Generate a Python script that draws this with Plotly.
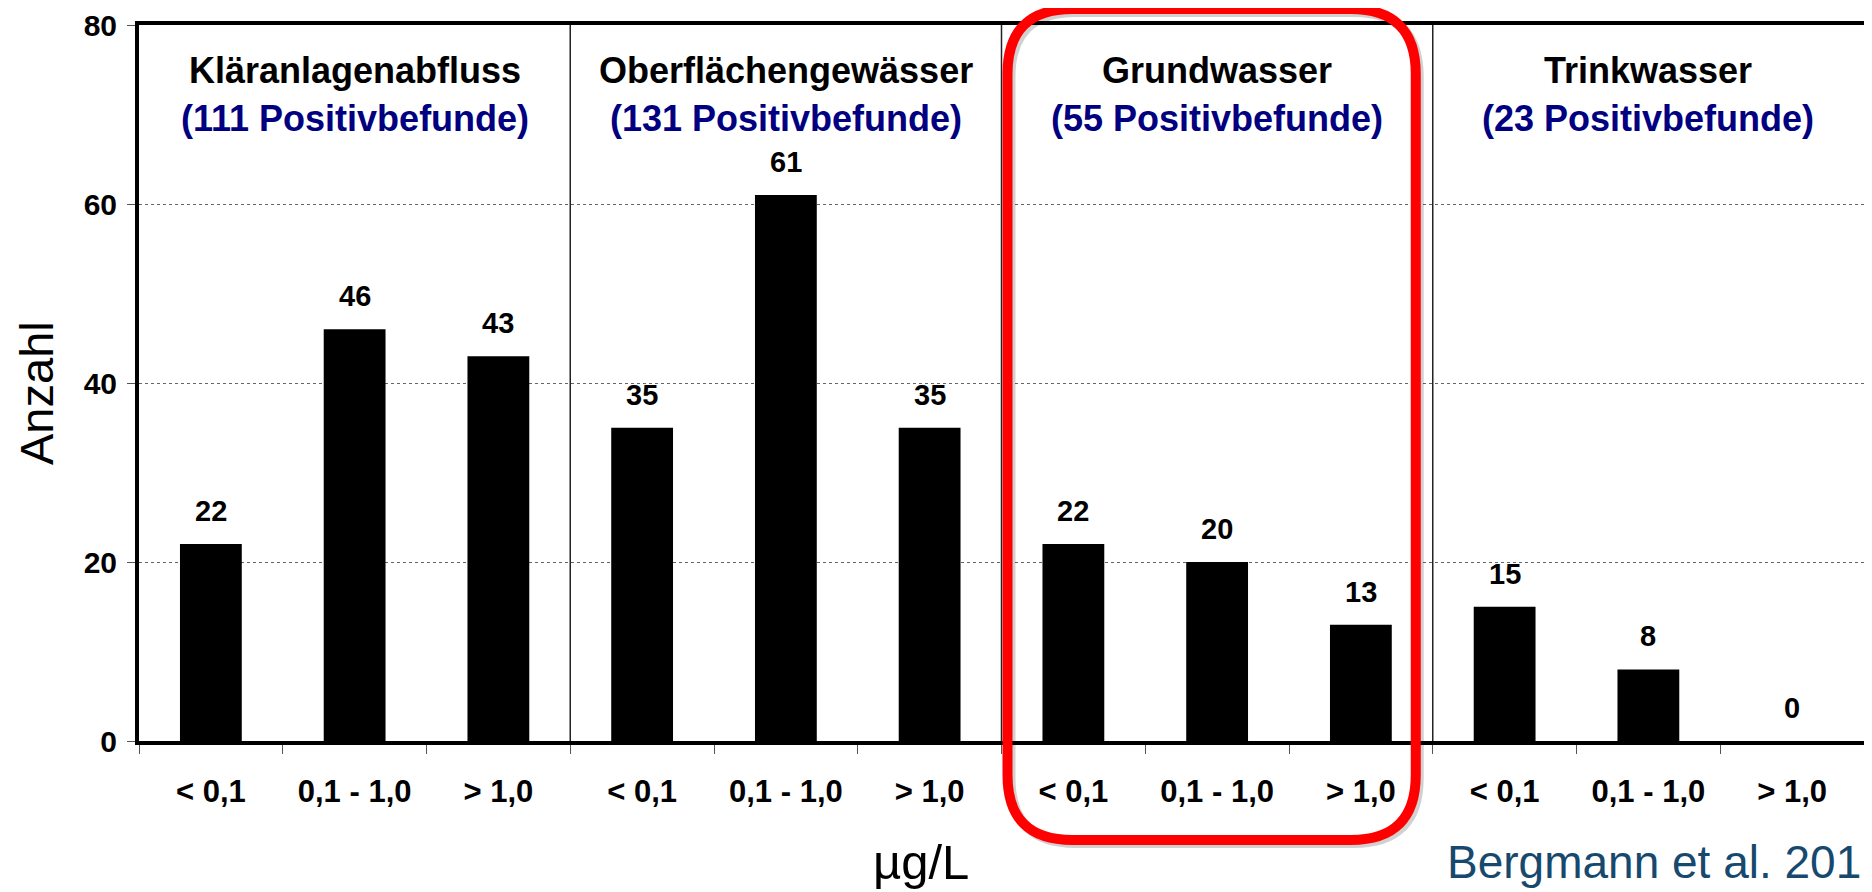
import plotly.graph_objects as go

# ---- data ----
groups = ["Kläranlagenabfluss", "Oberflächengewässer", "Grundwasser", "Trinkwasser"]
positive_findings = [111, 131, 55, 23]
classes = ["< 0,1", "0,1 - 1,0", "> 1,0"]
klaeranlagenabfluss = [22, 46, 43]
oberflaechengewaesser = [35, 61, 35]
grundwasser = [22, 20, 13]
trinkwasser = [15, 8, 0]
y_ticks = [0, 20, 40, 60, 80]
highlight_group = "Grundwasser"

series = [klaeranlagenabfluss, oberflaechengewaesser, grundwasser, trinkwasser]

FONT = "Liberation Sans, Arial, sans-serif"
OFF = 8  # default page body margin
W, H = 1872 - OFF, 892 - OFF
# plot area in page pixels: x 139..1864, y 25..741
ML = 139 - OFF
MT = 25 - OFF
MR = W - (1864 - OFF)
MB = H - (741 - OFF)
PW, PH = W - ML - MR, H - MT - MB

x_idx, y_vals, tick_text = [], [], []
group_ranges = []
i = 0
for vals in series:
    start = i
    for c, v in zip(classes, vals):
        x_idx.append(i)
        y_vals.append(v)
        tick_text.append(c)
        i += 1
    group_ranges.append((start, i - 1))
n = len(x_idx)

px_per_x = PW / n


def py_to_paper(p):  # page pixel y -> paper
    return (741 - p) / PH


def px_to_paper(p):  # page pixel x -> paper
    return (p - 139) / PW


fig = go.Figure()
fig.add_trace(go.Bar(
    x=x_idx, y=y_vals, marker=dict(color="black", line=dict(width=0)),
    showlegend=False, hoverinfo="x+y",
))

annotations = []
# value labels
for xv, yv in zip(x_idx, y_vals):
    annotations.append(dict(
        x=xv, y=yv, xref="x", yref="y", text=str(yv), showarrow=False,
        yanchor="bottom", yshift=15,
        font=dict(family=FONT, size=29, color="black", weight="bold"),
    ))

# group headers
for g, npos, (s, e) in zip(groups, positive_findings, group_ranges):
    cx = (s + e) / 2
    annotations.append(dict(
        x=cx, y=py_to_paper(70), xref="x", yref="paper", text=g, showarrow=False,
        yanchor="middle", font=dict(family=FONT, size=36, color="black", weight="bold"),
    ))
    annotations.append(dict(
        x=cx, y=py_to_paper(119), xref="x", yref="paper",
        text=f"({npos} Positivbefunde)", showarrow=False,
        yanchor="middle", font=dict(family=FONT, size=36, color="#000080", weight="bold"),
    ))

# y axis title
annotations.append(dict(
    x=px_to_paper(36), y=py_to_paper(393), xref="paper", yref="paper", text="Anzahl",
    textangle=-90, showarrow=False, xanchor="center", yanchor="middle",
    font=dict(family=FONT, size=47, color="black"),
))
# x axis unit label
annotations.append(dict(
    x=px_to_paper(921), y=py_to_paper(862), xref="paper", yref="paper", text="µg/L",
    showarrow=False, xanchor="center", yanchor="middle",
    font=dict(family=FONT, size=49, color="black"),
))
# source
annotations.append(dict(
    x=px_to_paper(1445), y=py_to_paper(862), xref="paper", yref="paper",
    text="Bergmann et al. 201", showarrow=False, xanchor="left", yanchor="middle",
    font=dict(family=FONT, size=46, color="#17496E"),
))

shapes = []
# group dividers
for (s, e) in group_ranges[:-1]:
    shapes.append(dict(type="line", xref="x", yref="paper", x0=e + 0.5, x1=e + 0.5,
                       y0=0, y1=1, line=dict(color="#222222", width=1.5), layer="above"))

# highlight box (rounded rectangle) around one group
gi = groups.index(highlight_group)
hs, he = group_ranges[gi]
x0 = hs - 0.5 + 6 / px_per_x
x1 = he + 0.5 - 17 / px_per_x
y0 = py_to_paper(840)
y1 = py_to_paper(9)
r_px = 65
rx = r_px / px_per_x
ry = r_px / PH


def rounded_path(x0, x1, y0, y1, rx, ry):
    return (f"M {x0 + rx},{y1} L {x1 - rx},{y1} Q {x1},{y1} {x1},{y1 - ry} "
            f"L {x1},{y0 + ry} Q {x1},{y0} {x1 - rx},{y0} "
            f"L {x0 + rx},{y0} Q {x0},{y0} {x0},{y0 + ry} "
            f"L {x0},{y1 - ry} Q {x0},{y1} {x0 + rx},{y1} Z")


sdx, sdy = 3 / px_per_x, 3 / PH
shapes.append(dict(type="path", xref="x", yref="paper",
                   path=rounded_path(x0 + sdx, x1 + sdx, y0 - sdy, y1 - sdy, rx, ry),
                   line=dict(color="rgba(0,0,0,0.18)", width=10), layer="above"))
shapes.append(dict(type="path", xref="x", yref="paper",
                   path=rounded_path(x0, x1, y0, y1, rx, ry),
                   line=dict(color="#FF0000", width=10), layer="above"))

fig.update_layout(
    width=W, height=H,
    margin=dict(l=ML, r=MR, t=MT, b=MB, autoexpand=False),
    paper_bgcolor="white", plot_bgcolor="white",
    bargap=0.57,
    annotations=annotations, shapes=shapes,
    font=dict(family=FONT, color="black"),
)
fig.update_xaxes(
    range=[-0.5, n - 0.5], tickmode="array", tickvals=x_idx, ticktext=tick_text,
    ticks="", ticklabelstandoff=20,
    tickfont=dict(family=FONT, size=31, color="black", weight="bold"),
    minor=dict(tickvals=[k - 0.5 for k in range(n + 1)], ticks="outside", ticklen=9,
               tickcolor="#555555", tickwidth=1, showgrid=False),
    showline=True, linewidth=4, linecolor="black", mirror=True,
    showgrid=False, zeroline=False, fixedrange=True,
)
fig.update_yaxes(
    range=[0, 80], tickmode="array", tickvals=y_ticks,
    ticks="outside", ticklen=8, tickcolor="#555555", tickwidth=1,
    ticklabelstandoff=4,
    tickfont=dict(family=FONT, size=30, color="black", weight="bold"),
    showline=True, linewidth=4, linecolor="black", mirror=True,
    showgrid=True, gridcolor="#666666", gridwidth=1, griddash="dot",
    zeroline=False,
)

fig.write_html("out.html")
